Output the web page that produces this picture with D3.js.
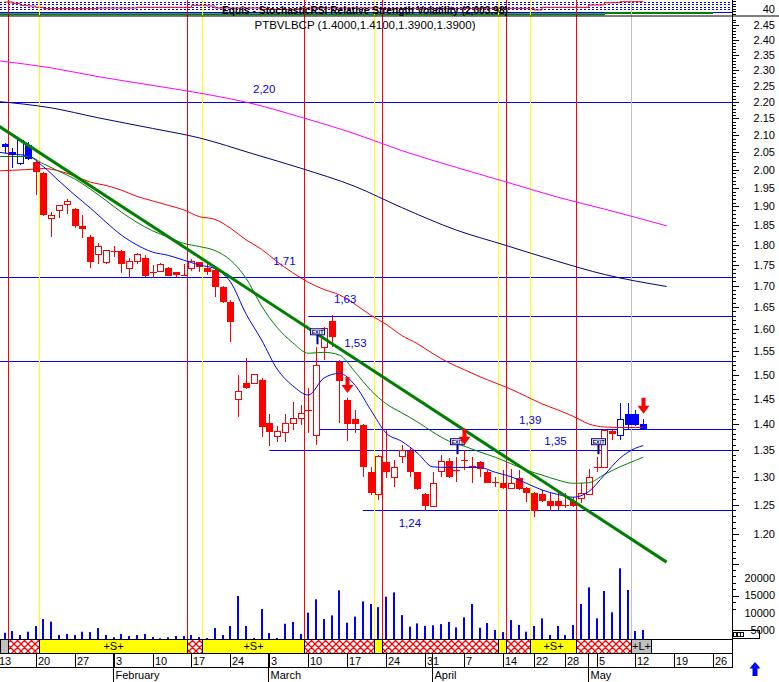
<!DOCTYPE html>
<html><head><meta charset="utf-8">
<script src="https://cdn.jsdelivr.net/npm/d3@7"></script>
<style>
body{margin:0;background:#fff;}
svg{display:block;font-family:"Liberation Sans",Arial,sans-serif;}
</style>
</head><body>
<svg id="c" width="779" height="682"></svg>
<script>
// ---------------- DATA ----------------
const firstDay = "2014-01-13", lastDay = "2014-05-30";
const holidays = ["2014-04-18", "2014-04-21", "2014-05-01"];
const candleFrom = "2014-01-14";   // first candle; one candle per trading day after it
const open  = [2.074,2.052,2.019,2.071,2.021,1.991,1.867,1.888,1.904,1.893,1.849,1.821,1.777,1.756,1.785,1.785,1.742,1.758,1.768,1.734,1.735,1.742,1.732,1.726,1.742,1.757,1.743,1.738,1.696,1.662,1.448,1.483,1.482,1.490,1.402,1.375,1.384,1.401,1.411,1.429,1.378,1.559,1.618,1.528,1.448,1.410,1.398,1.309,1.268,1.327,1.298,1.337,1.348,1.308,1.269,1.246,1.309,1.328,1.313,1.331,1.320,1.327,1.309,1.290,1.288,1.279,1.297,1.279,1.270,1.269,1.257,1.257,1.250,1.256,1.261,1.268,1.318,1.317,1.387,1.378,1.419,1.419,1.400];
const high  = [2.076,2.063,2.086,2.081,2.026,1.994,1.886,1.904,1.920,1.896,1.877,1.825,1.806,1.787,1.797,1.787,1.767,1.780,1.775,1.750,1.755,1.745,1.734,1.752,1.764,1.758,1.754,1.742,1.699,1.666,1.500,1.535,1.500,1.493,1.420,1.395,1.420,1.444,1.438,1.472,1.559,1.604,1.631,1.531,1.452,1.428,1.400,1.318,1.340,1.388,1.331,1.359,1.353,1.309,1.271,1.309,1.340,1.335,1.336,1.350,1.337,1.329,1.312,1.299,1.312,1.314,1.312,1.281,1.272,1.276,1.271,1.270,1.270,1.264,1.288,1.314,1.336,1.390,1.388,1.441,1.441,1.428,1.410];
const low   = [2.048,2.006,2.014,2.028,1.931,1.874,1.821,1.869,1.879,1.843,1.817,1.742,1.752,1.752,1.770,1.731,1.718,1.752,1.721,1.718,1.733,1.722,1.719,1.723,1.736,1.734,1.726,1.674,1.659,1.571,1.414,1.470,1.480,1.375,1.358,1.365,1.364,1.388,1.398,1.382,1.359,1.531,1.560,1.401,1.367,1.382,1.300,1.267,1.258,1.297,1.282,1.325,1.300,1.276,1.238,1.245,1.300,1.298,1.291,1.312,1.288,1.300,1.288,1.281,1.278,1.278,1.276,1.255,1.229,1.255,1.238,1.241,1.244,1.246,1.252,1.267,1.309,1.316,1.369,1.369,1.388,1.396,1.390];
const close = [2.065,2.043,2.083,2.031,1.994,1.876,1.876,1.902,1.913,1.849,1.841,1.758,1.797,1.785,1.784,1.752,1.758,1.776,1.724,1.733,1.752,1.724,1.726,1.725,1.758,1.746,1.734,1.696,1.662,1.616,1.465,1.473,1.500,1.393,1.385,1.385,1.401,1.411,1.421,1.428,1.519,1.600,1.581,1.487,1.399,1.399,1.317,1.270,1.337,1.309,1.316,1.348,1.309,1.278,1.248,1.288,1.328,1.299,1.312,1.330,1.316,1.314,1.289,1.289,1.279,1.288,1.278,1.270,1.238,1.257,1.248,1.248,1.249,1.248,1.269,1.299,1.319,1.388,1.380,1.409,1.398,1.398,1.390];
const volume = [4200,4700,3550,4500,6150,8150,7400,3550,3850,3550,4500,4400,5550,3550,2900,3850,3250,3550,3850,2950,2600,2900,3250,3250,3550,2950,2700,5550,3550,6150,14800,6150,2700,11050,4100,2700,6800,7300,3850,10000,13850,8150,9200,16450,7100,8850,13250,12500,11600,14600,15850,9300,5950,6900,6150,6350,6700,7300,5750,8650,12500,5650,7000,5000,4400,7850,6450,4500,6150,8350,3550,6150,3550,6450,12500,17300,8350,16250,10100,22800,16550,4700,5000];
const blueCandleDates = ["2014-01-14","2014-01-15","2014-01-16","2014-01-17","2014-05-08","2014-05-09","2014-05-12","2014-05-13"];

// moving averages
const maDates = ["2014-01-13","2014-01-15","2014-01-17","2014-01-21","2014-01-23","2014-01-27","2014-01-29","2014-01-31","2014-02-04","2014-02-06","2014-02-10","2014-02-12","2014-02-14","2014-02-18","2014-02-20","2014-02-24","2014-02-26","2014-02-28","2014-03-04","2014-03-06","2014-03-10","2014-03-12","2014-03-14","2014-03-18","2014-03-20","2014-03-24","2014-03-26","2014-03-28","2014-04-01","2014-04-03","2014-04-07","2014-04-09","2014-04-11","2014-04-15","2014-04-17","2014-04-23","2014-04-25","2014-04-29","2014-05-02","2014-05-06","2014-05-08","2014-05-12","2014-05-13"];
const maShort = [2.051,2.045,2.040,2.009,1.969,1.931,1.896,1.859,1.825,1.800,1.782,1.774,1.762,1.750,1.741,1.709,1.634,1.575,1.512,1.477,1.458,1.493,1.503,1.478,1.428,1.382,1.366,1.344,1.318,1.317,1.317,1.317,1.308,1.300,1.288,1.276,1.268,1.263,1.273,1.303,1.334,1.353,1.358];
const maMid   = [2.038,2.038,2.038,2.017,1.996,1.975,1.947,1.916,1.885,1.858,1.836,1.820,1.804,1.796,1.786,1.762,1.718,1.652,1.603,1.569,1.546,1.548,1.542,1.506,1.468,1.440,1.422,1.404,1.384,1.367,1.357,1.346,1.336,1.324,1.312,1.303,1.294,1.288,1.289,1.304,1.318,1.330,1.336];
const maLong  = [1.997,1.999,2.001,2.004,1.997,1.983,1.966,1.957,1.944,1.927,1.915,1.903,1.891,1.873,1.866,1.843,1.813,1.789,1.758,1.731,1.708,1.691,1.678,1.656,1.631,1.610,1.585,1.567,1.545,1.526,1.511,1.496,1.483,1.470,1.455,1.440,1.428,1.415,1.400,1.394,1.393,1.393,1.393];
const ma100Dates = ["2014-01-13","2014-01-22","2014-01-30","2014-02-10","2014-02-18","2014-02-27","2014-03-07","2014-03-18","2014-03-26","2014-04-04","2014-04-14","2014-04-25","2014-05-06","2014-05-16"];
const ma100 = [2.202,2.182,2.152,2.120,2.092,2.045,2.005,1.954,1.897,1.838,1.801,1.759,1.727,1.698];
const ma200 = [2.332,2.308,2.280,2.252,2.228,2.194,2.154,2.104,2.055,2.007,1.969,1.925,1.893,1.849];

// trend line end points
const trendDates = ["2014-01-13", "2014-05-16"];
const trendPrices = [2.131, 1.153];

// support / resistance levels
const levelValues = [2.20, 1.72, 1.63, 1.53, 1.39, 1.35, 1.24];
const levelLabels = ["2,20", "1,71", "1,63", "1,53", "1,39", "1,35", "1,24"];
const levelFrom   = ["2014-01-13","2014-01-13","2014-03-10","2014-01-13","2014-03-11","2014-03-03","2014-03-19"];
const levelLabelDay   = [32.9, 35.5, 43.3, 44.6, 67.05, 70.3, 51.6];   // trading-day index
const levelLabelPrice = [2.227, 1.750, 1.659, 1.560, 1.399, 1.359, 1.212];

// system signals
const sellLines = ["2014-01-14","2014-02-14","2014-03-07","2014-03-21","2014-04-14","2014-04-29"];
const buyLines  = ["2014-01-20","2014-02-18","2014-03-20","2014-04-11","2014-04-17"];
const neutralLines = ["2014-05-09"];
const bandStart = ["2014-01-14","2014-01-20","2014-02-14","2014-02-18","2014-03-07","2014-03-20","2014-03-21","2014-04-11","2014-04-14","2014-04-17","2014-04-29","2014-05-09"];
const bandType  = ["hatch","S","hatch","S","hatch","Y","hatch","Y","hatch","S","hatch","L"];
const exitDates = ["2014-03-11","2014-04-04","2014-05-05"];
const arrowDates = ["2014-03-17","2014-04-07","2014-05-13"];

// top indicator strip
const stochDates = ["2014-01-14","2014-01-15","2014-01-16","2014-01-17","2014-01-20","2014-01-21","2014-01-23","2014-01-30","2014-02-06","2014-02-14","2014-02-17","2014-02-19","2014-02-20","2014-02-24","2014-02-28","2014-03-07","2014-03-21","2014-04-17","2014-04-22","2014-04-23","2014-04-30","2014-05-02","2014-05-06","2014-05-08","2014-05-13"];
const stochValues = [90,77,57,50,37,23,23,30,37,37,57,50,30,30,17,30,27,27,10,37,37,60,83,93,93];
const headerTitle = "Equis - StochasticRSI Relative Strength Volatility (2,003.98)";

const monthNames = ["January","February","March","April","May","June"];
const priceTickMin = 1.20, priceTickMax = 2.45;
const volumeTicks = [5000, 10000, 15000, 20000];

// ---------------- BUILD ----------------
const svg = d3.select("#c");
const parse = d3.utcParse("%Y-%m-%d"), fmt = d3.utcFormat("%Y-%m-%d");
const days = [];
for (let d = parse(firstDay); d <= parse(lastDay); d = d3.utcDay.offset(d, 1)) {
  const wd = d.getUTCDay(), s = fmt(d);
  if (wd > 0 && wd < 6 && !holidays.includes(s)) days.push(s);
}
const idx = s => days.indexOf(s);
const c0 = idx(candleFrom);
const candles = open.map((o, k) => ({i: c0 + k, date: days[c0 + k], o, h: high[k], l: low[k], c: close[k], v: volume[k]}));

const x = d3.scaleLinear().domain([0, idx("2014-05-26")]).range([-3.24, 713.35]);
const y = d3.scaleLog().domain([1.2, 2.45]).range([533.67, 25.4]);
const yv = d3.scaleLinear().domain([0, 20000]).range([647.3, 578]);
const ys = d3.scaleLinear().domain([0, 100]).range([11, 1]);
const PLOT_R = 732, BAND_T = 639, BAND_B = 653, DATE_B = 667.5;
const cx = i => Math.round(x(i));

const defs = svg.append("defs");
defs.append("clipPath").attr("id", "clip").append("rect").attr("x", 0).attr("y", 0).attr("width", PLOT_R).attr("height", BAND_T);
const pat = defs.append("pattern").attr("id", "hatch").attr("width", 7).attr("height", 7).attr("patternUnits", "userSpaceOnUse");
pat.append("rect").attr("width", 7).attr("height", 7).attr("fill", "#fff");
pat.append("path").attr("d", "M0,0L7,7M7,0L0,7M-1,6L1,8M6,-1L8,1").attr("stroke", "#ff0000").attr("stroke-width", 1.3);

const plot = svg.append("g").attr("clip-path", "url(#clip)");

// top strip
const strip = plot.append("g");
[2.5, 4.5, 7.5, 9.5].forEach(yy => strip.append("line").attr("x1", 0).attr("x2", PLOT_R).attr("y1", yy).attr("y2", yy)
  .attr("stroke", "#0000ff").attr("stroke-dasharray", "2,2"));
strip.append("line").attr("x1", 0).attr("x2", PLOT_R).attr("y1", 12.5).attr("y2", 12.5).attr("stroke", "#0000ff");
strip.append("line").attr("x1", 0).attr("x2", 605).attr("y1", 14.3).attr("y2", 14.3).attr("stroke", "#008000").attr("stroke-width", 2);
strip.append("line").attr("x1", 605).attr("x2", 713).attr("y1", 13).attr("y2", 13).attr("stroke", "#008000").attr("stroke-width", 2);
strip.append("path").datum(stochDates.map((d, k) => [idx(d), stochValues[k]]))
  .attr("d", d3.line().x(d => x(d[0])).y(d => ys(d[1])).curve(d3.curveStepAfter))
  .attr("fill", "none").attr("stroke", "#ff0000");

// level lines
levelValues.forEach((v, k) => {
  plot.append("line").attr("x1", Math.max(0, x(idx(levelFrom[k])))).attr("x2", PLOT_R + 2)
    .attr("y1", Math.round(y(v)) + 0.5).attr("y2", Math.round(y(v)) + 0.5).attr("stroke", "#0000ff");
});

// signal vertical lines
const vline = (d, col) => plot.append("line").attr("x1", Math.round(x(idx(d) + 0.4)) + 0.5).attr("x2", Math.round(x(idx(d) + 0.4)) + 0.5)
  .attr("y1", 0).attr("y2", BAND_T).attr("stroke", col);
neutralLines.forEach(d => vline(d, "#c0c0c0"));
buyLines.forEach(d => vline(d, "#ffff00"));
sellLines.forEach(d => vline(d, "#ff0000"));

// long moving averages
const lineGen = d3.line().x(d => x(d[0])).y(d => y(d[1])).curve(d3.curveMonotoneX);
plot.append("path").datum(ma100Dates.map((d, k) => [idx(d), ma200[k]])).attr("d", lineGen).attr("fill", "none").attr("stroke", "#ff00ff");
plot.append("path").datum(ma100Dates.map((d, k) => [idx(d), ma100[k]])).attr("d", lineGen).attr("fill", "none").attr("stroke", "#000080");

// volume bars
plot.append("g").selectAll("rect").data(candles).join("rect")
  .attr("x", d => cx(d.i) - 1).attr("width", 2)
  .attr("y", d => yv(d.v)).attr("height", d => BAND_T - yv(d.v)).attr("fill", "#0000ff");

// candles
const cg = plot.append("g").attr("shape-rendering", "crispEdges");
candles.forEach(d => {
  const col = blueCandleDates.includes(d.date) ? "#0000ff" : "#ff0000";
  const X = cx(d.i);
  cg.append("line").attr("x1", X + 0.5).attr("x2", X + 0.5).attr("y1", y(d.h)).attr("y2", y(d.l)).attr("stroke", col);
  const top = y(Math.max(d.o, d.c)), bot = y(Math.min(d.o, d.c));
  if (bot - top < 1.5) {
    cg.append("rect").attr("x", X - 3).attr("y", Math.round((top + bot) / 2)).attr("width", 7).attr("height", 1).attr("fill", col);
  } else if (d.c < d.o) {
    cg.append("rect").attr("x", X - 3).attr("y", top).attr("width", 7).attr("height", bot - top).attr("fill", col);
  } else {
    cg.append("rect").attr("x", X - 2.5).attr("y", top).attr("width", 6).attr("height", bot - top)
      .attr("fill", "#fff").attr("stroke", col);
  }
});

// shorter moving averages
const maPts = arr => maDates.map((d, k) => [idx(d), arr[k]]);
plot.append("path").datum(maPts(maLong)).attr("d", lineGen).attr("fill", "none").attr("stroke", "#ff0000");
plot.append("path").datum(maPts(maMid)).attr("d", lineGen).attr("fill", "none").attr("stroke", "#008000");
plot.append("path").datum(maPts(maShort)).attr("d", lineGen).attr("fill", "none").attr("stroke", "#0000ff");

// trend line
plot.append("line").attr("x1", x(idx(trendDates[0]))).attr("y1", y(trendPrices[0]))
  .attr("x2", x(idx(trendDates[1]))).attr("y2", y(trendPrices[1]))
  .attr("stroke", "#008000").attr("stroke-width", 3);

// level labels
levelLabels.forEach((t, k) => {
  plot.append("text").attr("x", x(levelLabelDay[k])).attr("y", y(levelLabelPrice[k]))
    .attr("font-size", 11.5).attr("fill", "#0000ff").text(t);
});

// exit markers
exitDates.forEach(dt => {
  const c = candles.find(e => e.date === dt);
  const X = cx(c.i), yb = y(c.h) - 3;
  plot.append("rect").attr("x", X + 0.5).attr("y", yb - 10).attr("width", 2).attr("height", 10).attr("fill", "#000080");
  plot.append("rect").attr("x", X - 5.5).attr("y", yb - 15.5).attr("width", 14).attr("height", 6).attr("fill", "#fff").attr("stroke", "#000080");
  plot.append("text").attr("x", X + 1.5).attr("y", yb - 10.6).attr("text-anchor", "middle").attr("font-size", 5.5)
    .attr("font-weight", "bold").attr("fill", "#000080").text("EXIT");
});
// red down arrows
arrowDates.forEach(dt => {
  const c = candles.find(e => e.date === dt);
  const X = cx(c.i) + 0.5, tip = y(c.h) - 5;
  plot.append("path").attr("d", `M${X - 2},${tip - 16}H${X + 2}V${tip - 8}H${X + 6}L${X},${tip}L${X - 6},${tip - 8}H${X - 2}Z`).attr("fill", "#ff0000");
});

// header texts
svg.append("line").attr("x1", 0).attr("x2", 779).attr("y1", 16).attr("y2", 16).attr("stroke", "#000");
const hdr = svg.append("g").attr("font-size", 11.5).attr("fill", "#000");
hdr.append("text").attr("x", 222).attr("y", 13.5).attr("textLength", 286).attr("lengthAdjust", "spacingAndGlyphs")
  .attr("font-weight", "bold").text(headerTitle);
const last = candles[candles.length - 1];
hdr.append("text").attr("x", 365).attr("y", 29).attr("text-anchor", "middle")
  .text(`PTBVLBCP (${last.o.toFixed(4)},${last.h.toFixed(4)},${last.l.toFixed(4)},${last.c.toFixed(4)})`);

// right axis
const ax = svg.append("g").attr("shape-rendering", "crispEdges");
ax.append("line").attr("x1", PLOT_R + 0.5).attr("x2", PLOT_R + 0.5).attr("y1", 0).attr("y2", BAND_T).attr("stroke", "#000");
for (let s = 1; s < 16; s += 2.5) ax.append("line").attr("x1", PLOT_R).attr("x2", PLOT_R + 4).attr("y1", Math.round(s) + 0.5).attr("y2", Math.round(s) + 0.5).attr("stroke", "#000");
ax.append("text").attr("x", 775).attr("y", 12.5).attr("text-anchor", "end").attr("font-size", 11).text("40");
for (let p = 1.08; p <= 2.475; p += 0.01) {
  const major = Math.abs(p * 20 - Math.round(p * 20)) < 1e-6;
  const yy = Math.round(y(p)) + 0.5;
  ax.append("line").attr("x1", PLOT_R).attr("x2", PLOT_R + (major ? 7 : 4)).attr("y1", yy).attr("y2", yy).attr("stroke", "#000");
}
d3.range(Math.round(priceTickMin * 20), Math.round(priceTickMax * 20) + 1).map(n => n / 20).forEach(p => {
  ax.append("text").attr("x", 775).attr("y", y(p) + 4).attr("text-anchor", "end").attr("font-size", 11).text(p.toFixed(2));
});
volumeTicks.forEach(v => {
  ax.append("text").attr("x", 775).attr("y", yv(v) + 4).attr("text-anchor", "end").attr("font-size", 11).text(v);
});
// small box + arrow bottom right
ax.append("rect").attr("x", 732.5).attr("y", 630.5).attr("width", 27).attr("height", 8).attr("fill", "none").attr("stroke", "#000");
[733.5, 737, 740.5].forEach(xx => ax.append("rect").attr("x", xx).attr("y", 632.5).attr("width", 3).attr("height", 4).attr("fill", "#fff").attr("stroke", "#000"));
svg.append("path").attr("d", "M755,662L760.5,668.5H757.5V676H752.5V668.5H749.5Z").attr("fill", "#0000ff");

// signal band
const band = svg.append("g").attr("shape-rendering", "crispEdges");
const bx = i => Math.round(x(i + 0.4)) + 0.5;
band.append("rect").attr("x", 0).attr("y", BAND_T + 0.5).attr("width", bx(idx(bandStart[0]))).attr("height", BAND_B - BAND_T)
  .attr("fill", "#c0c0c0").attr("stroke", "#000");
bandStart.forEach((d, k) => {
  const x1 = bx(idx(d));
  const x2 = k < bandStart.length - 1 ? bx(idx(bandStart[k + 1])) : Math.round(x(last.i)) + 8.5;
  const t = bandType[k];
  const fill = t === "hatch" ? "url(#hatch)" : (t === "L" ? "#c0c0c0" : "#ffff00");
  band.append("rect").attr("x", x1).attr("y", BAND_T + 0.5).attr("width", x2 - x1).attr("height", BAND_B - BAND_T)
    .attr("fill", fill).attr("stroke", "#000");
  if (t === "S" || t === "L") band.append("text").attr("x", (x1 + x2) / 2).attr("y", BAND_T + 11).attr("text-anchor", "middle")
    .attr("font-size", 11).text(t === "S" ? "+S+" : "+L+");
});
band.append("line").attr("x1", 0).attr("x2", PLOT_R).attr("y1", BAND_T + 0.5).attr("y2", BAND_T + 0.5).attr("stroke", "#000");
band.append("line").attr("x1", 0).attr("x2", PLOT_R).attr("y1", BAND_B + 0.5).attr("y2", BAND_B + 0.5).attr("stroke", "#000");
band.append("line").attr("x1", 0).attr("x2", PLOT_R).attr("y1", DATE_B).attr("y2", DATE_B).attr("stroke", "#000");
band.append("line").attr("x1", PLOT_R + 0.5).attr("x2", PLOT_R + 0.5).attr("y1", BAND_T).attr("y2", DATE_B).attr("stroke", "#000");

// date axis
const weekStarts = days.filter((d, k) => k === 0 || d3.utcWeek.floor(parse(d)).getTime() !== d3.utcWeek.floor(parse(days[k - 1])).getTime());
weekStarts.forEach(d => {
  const X = Math.round(x(idx(d))) + 0.5;
  band.append("line").attr("x1", X).attr("x2", X).attr("y1", BAND_B).attr("y2", DATE_B).attr("stroke", "#000");
  band.append("text").attr("x", X + 1.5).attr("y", BAND_B + 12).attr("font-size", 11).text(+d.slice(8, 10));
});
const monthStarts = days.filter((d, k) => k > 0 && d.slice(5, 7) !== days[k - 1].slice(5, 7));
monthStarts.forEach(d => {
  const X = Math.round(x(idx(d))) - 0.5;
  band.append("line").attr("x1", X).attr("x2", X).attr("y1", BAND_B).attr("y2", 682).attr("stroke", "#000");
  band.append("text").attr("x", X + 2).attr("y", 679).attr("font-size", 11).text(monthNames[+d.slice(5, 7) - 1]);
});
</script>
</body></html>
